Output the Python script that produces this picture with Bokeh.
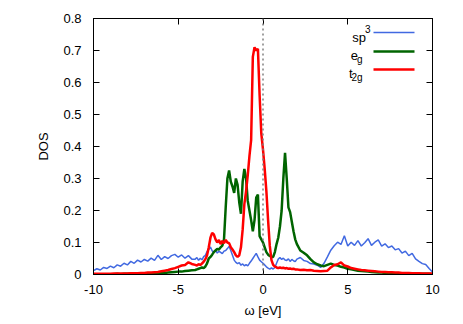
from bokeh.plotting import figure
from bokeh.models import (Span, Label, Arrow, LinearAxis, FixedTicker,
                          Range1d)
from bokeh.embed import file_html
from bokeh.resources import INLINE

# ---------------- data ----------------
omega_left = [-10.0, -9.8, -9.6, -9.4, -9.2, -9.0, -8.8, -8.6, -8.4, -8.2,
              -8.0, -7.8, -7.6, -7.4, -7.2, -7.0, -6.8, -6.6, -6.4, -6.2,
              -6.0, -5.8, -5.6, -5.4, -5.2, -5.0, -4.8, -4.6, -4.4, -4.2]
omega_mid = [-4.0, -3.9, -3.8, -3.7, -3.6, -3.5, -3.4, -3.3, -3.2, -3.1,
             -3.0, -2.9, -2.8, -2.7, -2.6, -2.5, -2.4, -2.3, -2.2, -2.1,
             -2.0, -1.9, -1.8, -1.7, -1.6, -1.5, -1.4, -1.3, -1.2, -1.1,
             -1.0, -0.9, -0.8, -0.7, -0.6, -0.5, -0.4, -0.3, -0.2, -0.1,
             0.0, 0.1, 0.2, 0.3, 0.4, 0.5, 0.6, 0.7, 0.8, 0.9,
             1.0, 1.1, 1.2, 1.3, 1.4, 1.5, 1.6, 1.7, 1.8, 1.9]
omega_right = [2.0, 2.2, 2.4, 2.6, 2.8, 3.0, 3.2, 3.4, 3.6, 3.8,
               4.0, 4.2, 4.4, 4.6, 4.8, 5.0, 5.2, 5.4, 5.6, 5.8,
               6.0, 6.2, 6.4, 6.6, 6.8, 7.0, 7.2, 7.4, 7.6, 7.8,
               8.0, 8.2, 8.4, 8.6, 8.8, 9.0, 9.2, 9.4, 9.6, 9.8, 10.0]

sp3_left = [0.012, 0.018, 0.014, 0.022, 0.019, 0.026, 0.021, 0.030, 0.026, 0.035,
            0.030, 0.041, 0.035, 0.045, 0.039, 0.047, 0.042, 0.051, 0.044, 0.060,
            0.047, 0.056, 0.050, 0.059, 0.063, 0.054, 0.061, 0.051, 0.059, 0.048]
sp3_mid = [0.048, 0.053, 0.044, 0.051, 0.046, 0.056, 0.060, 0.072, 0.078, 0.086,
           0.074, 0.070, 0.076, 0.067, 0.073, 0.069, 0.065, 0.073, 0.075, 0.081,
           0.088, 0.075, 0.060, 0.045, 0.038, 0.034, 0.037, 0.029, 0.033, 0.027,
           0.031, 0.027, 0.035, 0.042, 0.050, 0.058, 0.066, 0.055, 0.045, 0.040,
           0.035, 0.030, 0.024, 0.020, 0.017, 0.021, 0.017, 0.022, 0.035, 0.048,
           0.053, 0.047, 0.051, 0.045, 0.044, 0.049, 0.041, 0.047, 0.043, 0.040]
sp3_right = [0.048, 0.053, 0.044, 0.041, 0.034, 0.033, 0.029, 0.022, 0.035, 0.055,
             0.076, 0.090, 0.101, 0.094, 0.121, 0.089, 0.101, 0.091, 0.106, 0.089,
             0.099, 0.112, 0.091, 0.101, 0.108, 0.089, 0.096, 0.084, 0.089, 0.077,
             0.081, 0.067, 0.073, 0.059, 0.066, 0.049, 0.041, 0.034, 0.031, 0.019, 0.008]

eg_left = [0.001, 0.001, 0.001, 0.001, 0.001, 0.001, 0.001, 0.002, 0.001, 0.002,
           0.002, 0.002, 0.002, 0.002, 0.003, 0.003, 0.003, 0.003, 0.004, 0.004,
           0.004, 0.005, 0.006, 0.007, 0.008, 0.009, 0.009, 0.011, 0.012, 0.013]
eg_mid = [0.014, 0.016, 0.018, 0.020, 0.022, 0.020, 0.025, 0.035, 0.050, 0.055,
          0.062, 0.070, 0.075, 0.080, 0.078, 0.085, 0.090, 0.110, 0.210, 0.300,
          0.325, 0.290, 0.275, 0.255, 0.300, 0.280, 0.225, 0.190, 0.290, 0.330,
          0.300, 0.230, 0.200, 0.170, 0.135, 0.170, 0.240, 0.250, 0.120, 0.110,
          0.100, 0.085, 0.070, 0.062, 0.058, 0.055, 0.055, 0.070, 0.095, 0.115,
          0.150, 0.200, 0.300, 0.380, 0.300, 0.210, 0.195, 0.165, 0.135, 0.110]
eg_right = [0.095, 0.075, 0.068, 0.060, 0.048, 0.038, 0.032, 0.028, 0.026, 0.030,
            0.034, 0.030, 0.028, 0.024, 0.022, 0.018, 0.016, 0.014, 0.012, 0.011,
            0.010, 0.009, 0.008, 0.007, 0.006, 0.006, 0.005, 0.005, 0.004, 0.004,
            0.004, 0.003, 0.003, 0.003, 0.003, 0.002, 0.002, 0.002, 0.002, 0.002, 0.001]

t2g_left = [0.002, 0.002, 0.002, 0.002, 0.002, 0.002, 0.003, 0.003, 0.003, 0.003,
            0.003, 0.004, 0.004, 0.004, 0.005, 0.005, 0.006, 0.006, 0.007, 0.008,
            0.010, 0.012, 0.014, 0.017, 0.020, 0.024, 0.028, 0.030, 0.038, 0.033]
t2g_mid = [0.030, 0.028, 0.032, 0.030, 0.034, 0.040, 0.048, 0.060, 0.085, 0.115,
           0.130, 0.125, 0.110, 0.100, 0.108, 0.095, 0.105, 0.098, 0.108, 0.100,
           0.098, 0.085, 0.078, 0.070, 0.060, 0.055, 0.060, 0.085, 0.140, 0.220,
           0.260, 0.310, 0.370, 0.420, 0.680, 0.710, 0.700, 0.705, 0.560, 0.440,
           0.390, 0.330, 0.260, 0.170, 0.090, 0.045, 0.030, 0.025, 0.022, 0.020,
           0.022, 0.020, 0.021, 0.019, 0.020, 0.018, 0.019, 0.017, 0.018, 0.016]
t2g_right = [0.016, 0.014, 0.015, 0.013, 0.014, 0.012, 0.011, 0.010, 0.011, 0.012,
             0.022, 0.030, 0.032, 0.038, 0.028, 0.025, 0.020, 0.018, 0.016, 0.014,
             0.013, 0.012, 0.011, 0.010, 0.009, 0.008, 0.008, 0.007, 0.007, 0.006,
             0.006, 0.005, 0.005, 0.005, 0.004, 0.004, 0.004, 0.003, 0.003, 0.003, 0.003]

x_ticks = [-10, -5, 0, 5, 10]
x_tick_labels = ["-10", "-5", "0", "5", "10"]
y_ticks = [0, 0.1, 0.2, 0.3, 0.4, 0.5, 0.6, 0.7, 0.8]
y_tick_labels = ["0", "0.1", "0.2", "0.3", "0.4", "0.5", "0.6", "0.7", "0.8"]
fermi_level = 0.0

legend_main = ["sp", "e", "t"]
legend_script = ["3", "g", "2g"]
legend_script_kind = ["sup", "sub", "sub"]
series_colors = ["#4169e1", "#006400", "#ff0000"]
series_widths = [1.5, 2.5, 2.5]

omega = omega_left + omega_mid + omega_right
series = [sp3_left + sp3_mid + sp3_right,
          eg_left + eg_mid + eg_right,
          t2g_left + t2g_mid + t2g_right]

FONT = "Liberation Sans"
W, H = 463, 324

p = figure(width=W, height=H, output_backend="svg", toolbar_location=None,
           x_range=Range1d(-10, 10), y_range=Range1d(0, 0.8),
           min_border_left=93, min_border_right=31,
           min_border_top=18, min_border_bottom=50)
p.background_fill_color = "white"
p.border_fill_color = "white"
p.outline_line_color = "black"
p.outline_line_width = 1
p.grid.visible = False

for ys, c, w in zip(series, series_colors, series_widths):
    p.line(omega, ys, line_color=c, line_width=w)

p.add_layout(Span(location=fermi_level, dimension="height", line_color="#808080",
                  line_width=1.5, line_dash="2 3"))

def style_axis(ax, show_labels):
    ax.axis_line_color = "black"
    ax.major_tick_line_color = "black"
    ax.major_tick_in = 6
    ax.major_tick_out = 0
    ax.minor_tick_line_color = None
    ax.major_label_text_font = FONT
    if show_labels:
        ax.major_label_text_font_size = "13px"
        ax.major_label_text_color = "black"
    else:
        ax.major_label_text_font_size = "0px"
        ax.major_label_text_color = None
        ax.major_label_standoff = 0

xa = p.xaxis[0]
ya = p.yaxis[0]
xa.ticker = FixedTicker(ticks=x_ticks)
ya.ticker = FixedTicker(ticks=y_ticks)
xa.major_label_overrides = dict(zip(x_ticks, x_tick_labels))
ya.major_label_overrides = dict(zip(y_ticks, y_tick_labels))
style_axis(xa, True)
style_axis(ya, True)
xa.major_label_standoff = 10
ya.major_label_standoff = 12
xa.axis_label = "ω [eV]"
ya.axis_label = "DOS"
for ax in (xa, ya):
    ax.axis_label_text_font = FONT
    ax.axis_label_text_font_size = "13px"
    ax.axis_label_text_font_style = "normal"
    ax.axis_label_text_color = "black"
xa.axis_label_standoff = 6
ya.axis_label_standoff = 9

top = LinearAxis(ticker=FixedTicker(ticks=x_ticks))
right = LinearAxis(ticker=FixedTicker(ticks=y_ticks))
style_axis(top, False)
style_axis(right, False)
p.add_layout(top, "above")
p.add_layout(right, "right")

# legend (gnuplot style: text right-aligned, sample line to the right)
# screen units here are measured from the frame's bottom-left corner
row_y = [242, 223, 205]
for i in range(3):
    yc = row_y[i]
    p.add_layout(Arrow(end=None, x_start=280, x_end=321, y_start=yc, y_end=yc,
                       start_units="screen", end_units="screen",
                       line_color=series_colors[i], line_width=series_widths[i]))
    if legend_script_kind[i] == "sup":
        script_right, script_base, main_base = 277, yc + 4, yc - 5
    else:
        script_right, script_base, main_base = 269, yc - 8, yc - 4
    p.add_layout(Label(x=script_right, y=script_base, x_units="screen", y_units="screen",
                       text=legend_script[i], text_font=FONT, text_font_size="10px",
                       text_align="right", text_baseline="alphabetic", text_color="black"))
    sw = 5.4 * len(legend_script[i]) - 1
    p.add_layout(Label(x=script_right - sw, y=main_base, x_units="screen", y_units="screen",
                       text=legend_main[i], text_font=FONT, text_font_size="13px",
                       text_align="right", text_baseline="alphabetic", text_color="black"))

open("out.html", "w").write(file_html(p, INLINE))
